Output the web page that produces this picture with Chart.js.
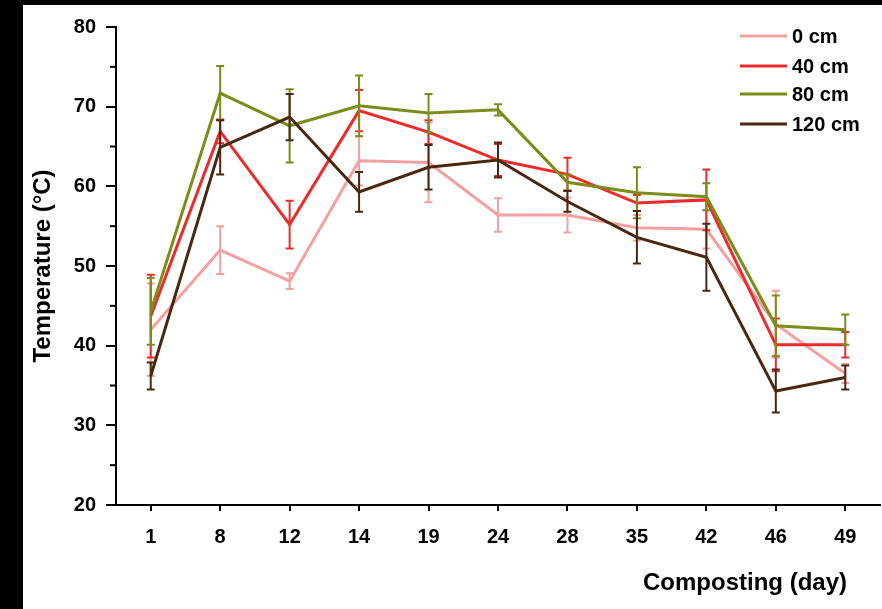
<!DOCTYPE html>
<html>
<head>
<meta charset="utf-8">
<script src="https://cdn.jsdelivr.net/npm/chart.js@4"></script>
<style>
  html, body { margin: 0; padding: 0; background: #000; }
  #wrap { position: absolute; left: 23px; top: 5px; width: 859px; height: 604px; background: #fff; }
</style>
</head>
<body>
<div id="wrap"><canvas id="grafico"></canvas></div>
<script>
// dados
const dias = ['1', '8', '12', '14', '19', '24', '28', '35', '42', '46', '49'];

const temp0   = [42.0, 52.0, 48.1, 63.2, 63.0, 56.4, 56.4, 54.8, 54.6, 42.7, 36.5];
const temp40  = [43.7, 66.9, 55.2, 69.5, 66.8, 63.3, 61.5, 57.9, 58.3, 40.1, 40.1];
const temp80  = [44.3, 71.7, 67.6, 70.1, 69.2, 69.6, 60.5, 59.2, 58.7, 42.5, 42.0];
const temp120 = [36.2, 64.9, 68.7, 59.3, 62.4, 63.3, 58.1, 53.6, 51.1, 34.3, 36.0];

const erro0   = [5.8, 3.0, 1.0, 3.1, 5.0, 2.1, 2.2, 1.6, 2.4, 4.2, 1.2];
const erro40  = [5.2, 1.5, 3.0, 2.6, 1.5, 2.0, 2.1, 1.0, 3.8, 3.3, 1.6];
const erro80  = [4.2, 3.4, 4.6, 3.8, 2.4, 0.7, 1.0, 3.2, 1.7, 3.8, 1.9];
const erro120 = [1.7, 3.4, 2.9, 2.5, 2.8, 2.2, 1.3, 3.3, 4.2, 2.7, 1.5];

const rotulos = ['0 cm', '40 cm', '80 cm', '120 cm'];
const cores   = ['#f4a0a0', '#ee2b2b', '#7d8b18', '#4a2810'];

const FONTE = "'Liberation Sans', Arial, sans-serif";
Chart.defaults.font.family = FONTE;

// barras de erro (média ± desvio) desenhadas pela escala y
const barrasErro = {
  id: 'barrasErro',
  afterDatasetDraw(chart, args) {
    const ds = chart.data.datasets[args.index];
    const y = chart.scales.y;
    const ctx = chart.ctx;
    ctx.save();
    ctx.strokeStyle = ds.borderColor;
    ctx.lineWidth = 2;
    args.meta.data.forEach((pt, i) => {
      const v = ds.data[i], e = ds.erros[i];
      const t = y.getPixelForValue(v + e), b = y.getPixelForValue(v - e);
      ctx.beginPath();
      ctx.moveTo(pt.x, t); ctx.lineTo(pt.x, b);
      ctx.moveTo(pt.x - 4, t); ctx.lineTo(pt.x + 4, t);
      ctx.moveTo(pt.x - 4, b); ctx.lineTo(pt.x + 4, b);
      ctx.stroke();
    });
    ctx.restore();
  }
};

// ticks menores, título do eixo x e legenda
const extras = {
  id: 'extras',
  afterDraw(chart) {
    const ctx = chart.ctx;
    const y = chart.scales.y;
    const x = chart.scales.x;
    ctx.save();
    ctx.strokeStyle = '#000';
    ctx.lineWidth = 2;
    for (let v = 25; v < 80; v += 10) {
      const py = y.getPixelForValue(v);
      ctx.beginPath();
      ctx.moveTo(y.right - 6, py);
      ctx.lineTo(y.right, py);
      ctx.stroke();
    }

    ctx.fillStyle = '#000';
    ctx.font = 'bold 24px ' + FONTE;
    ctx.textAlign = 'right';
    ctx.textBaseline = 'middle';
    ctx.fillText('Composting (day)', x.right - 33, 578);

    ctx.font = 'bold 20px ' + FONTE;
    ctx.textAlign = 'left';
    const linhas = [31, 61, 89, 119];
    chart.data.datasets.forEach((ds, i) => {
      const ly = linhas[i];
      ctx.strokeStyle = ds.borderColor;
      ctx.lineWidth = 3;
      ctx.beginPath();
      ctx.moveTo(717, ly);
      ctx.lineTo(764, ly);
      ctx.stroke();
      ctx.fillStyle = '#000';
      ctx.fillText(ds.label, 769, ly + 1);
    });
    ctx.restore();
  }
};

const series = [temp0, temp40, temp80, temp120];
const erros  = [erro0, erro40, erro80, erro120];

new Chart(document.getElementById('grafico'), {
  type: 'line',
  data: {
    labels: dias,
    datasets: series.map((s, i) => ({
      label: rotulos[i],
      data: s,
      erros: erros[i],
      borderColor: cores[i],
      backgroundColor: cores[i],
      borderWidth: 3,
      pointRadius: 0,
      tension: 0,
      order: 4 - i,
    })),
  },
  options: {
    responsive: true,
    maintainAspectRatio: false,
    animation: false,
    layout: { padding: { top: 20, right: 2, left: 0, bottom: 0 } },
    plugins: {
      legend: { display: false },
      tooltip: { enabled: false },
    },
    scales: {
      x: {
        offset: true,
        grid: { drawOnChartArea: false, drawTicks: true, tickLength: 6, offset: false, color: '#000', lineWidth: 2 },
        border: { display: true, color: '#000', width: 2 },
        ticks: { color: '#000', font: { size: 20, weight: 'bold' }, padding: 14, maxRotation: 0 },
        afterFit: (s) => { s.height = 104; },
      },
      y: {
        min: 20,
        max: 80,
        ticks: { stepSize: 10, color: '#000', font: { size: 20, weight: 'bold' }, padding: 10 },
        grid: { drawOnChartArea: false, drawTicks: true, tickLength: 10, color: '#000', lineWidth: 2 },
        border: { display: true, color: '#000', width: 2 },
        title: { display: true, text: 'Temperature (°C)', color: '#000', font: { size: 24, weight: 'bold' }, padding: { top: 6, bottom: 0 } },
        afterFit: (s) => { s.width = 93; },
      },
    },
  },
  plugins: [barrasErro, extras],
});
</script>
</body>
</html>
